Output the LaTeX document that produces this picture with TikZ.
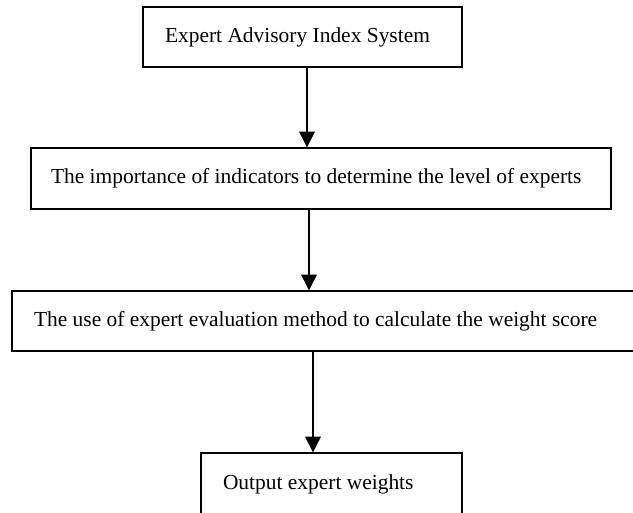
\documentclass[tikz,border=0pt]{standalone}
\usepackage{fontspec}
\setmainfont{Liberation Serif}
\usepackage{tikz}
\usetikzlibrary{arrows.meta}

\tikzset{
  box/.style={draw, line width=0.75pt, minimum height=1.2cm, inner xsep=0.44cm,
    align=flush left, font=\fontsize{12.2}{14}\selectfont},
  flow/.style={line width=0.6pt, -{Triangle[width=9pt,length=9pt]}}
}

\begin{document}
\begin{tikzpicture}
\useasboundingbox (0,0) rectangle (12.66,10.26);

% Boxes
\node[box, text width=5.5cm] (index) at (6.05,9.52) {Expert Advisory Index System};
\node[box, inner xsep=0.4cm, text width=10.8cm, minimum height=1.22cm] (level) at (6.42,6.69) {The importance of indicators to determine the level of experts};
\node[box, text width=11.78cm] (score) at (6.57,3.84) {The use of expert evaluation method to calculate the weight score};
\node[box, text width=4.34cm, minimum height=1.24cm] (weights) at (6.63,0.58) {Output expert weights};

% Arrows
\draw[flow] ([xshift=0.09cm]index.south) -- ([xshift=0.09cm]index.south |- level.north);
\draw[flow] ([xshift=-0.24cm]level.south) -- ([xshift=-0.24cm]level.south |- score.north);
\draw[flow] ([xshift=-0.31cm]score.south) -- ([xshift=-0.31cm]score.south |- weights.north);
\end{tikzpicture}
\end{document}
